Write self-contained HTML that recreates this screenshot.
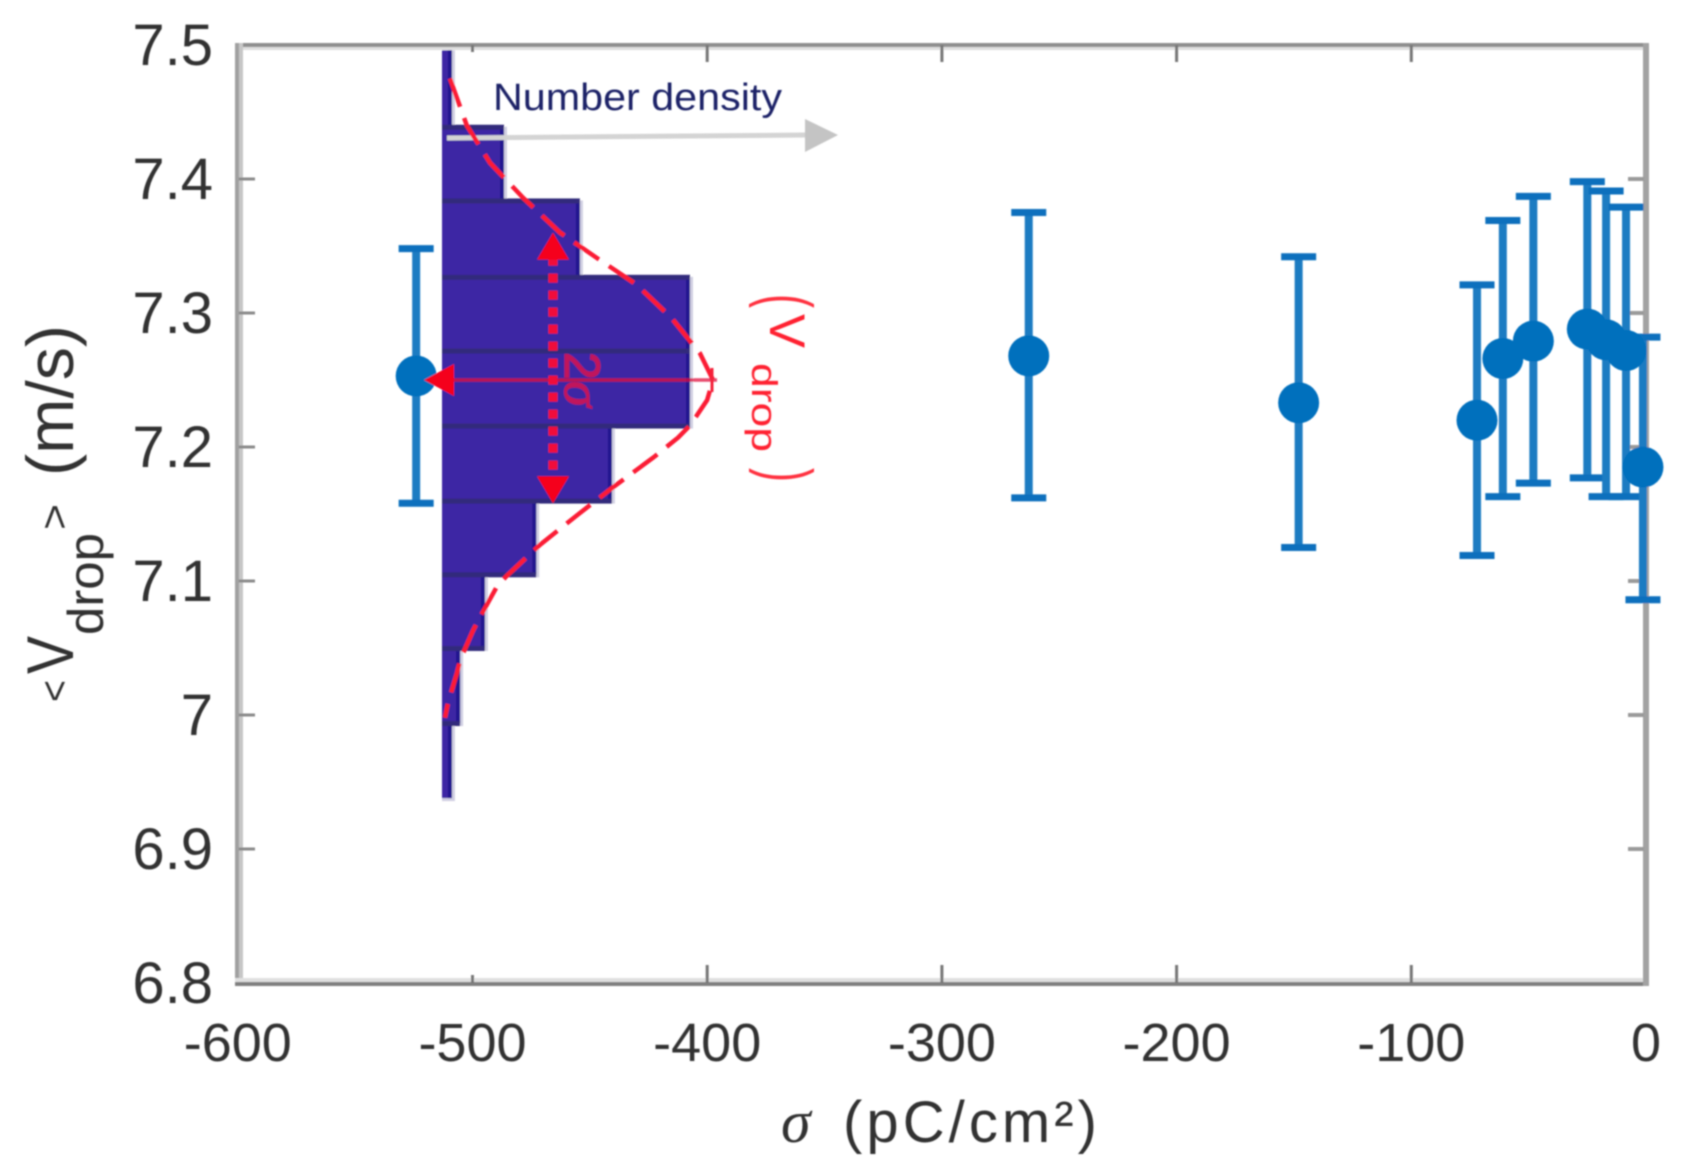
<!DOCTYPE html>
<html>
<head>
<meta charset="utf-8">
<title>Drop velocity vs surface charge</title>
<style>
  html,body{margin:0;padding:0;background:#fff;width:1681px;height:1173px;overflow:hidden}
  svg{display:block}
  text{font-family:"Liberation Sans",sans-serif}
</style>
</head>
<body>
<svg id="chart" xmlns="http://www.w3.org/2000/svg" width="1681" height="1173" viewBox="0 0 1681 1173">
  <defs>
    <filter id="soft" x="-5%" y="-5%" width="110%" height="110%"><feGaussianBlur stdDeviation="0.8"/></filter>
  </defs>
  <rect width="1681" height="1173" fill="#fff"/>
  <g id="root" filter="url(#soft)"></g>
</svg>
<script>
// ---- data ----
const sigma     = [-524, -263, -148, -72, -61, -48, -25, -17, -8.5, -1.3];
const vDrop     = [7.253, 7.268, 7.233, 7.220, 7.266, 7.279, 7.288, 7.280, 7.272, 7.185];
const vHigh     = [7.348, 7.375, 7.342, 7.321, 7.369, 7.387, 7.398, 7.391, 7.379, 7.282];
const vLow      = [7.158, 7.162, 7.125, 7.119, 7.163, 7.173, 7.177, 7.163, 7.163, 7.086];

const xTicks      = [-600, -500, -400, -300, -200, -100, 0];
const xTickLabels = ["-600", "-500", "-400", "-300", "-200", "-100", "0"];
const yTicks      = [7.5, 7.4, 7.3, 7.2, 7.1, 7, 6.9, 6.8];
const yTickLabels = ["7.5", "7.4", "7.3", "7.2", "7.1", "7", "6.9", "6.8"];

const histEdges   = [7.496, 7.439, 7.384, 7.327, 7.272, 7.216, 7.160, 7.105, 7.050, 6.994, 6.938];
const histDensity = [0.04, 0.25, 0.556, 1, 1, 0.685, 0.38, 0.173, 0.073, 0.04];

const fitV       = [7.475, 7.440, 7.412, 7.386, 7.360, 7.341, 7.321, 7.296, 7.270, 7.250, 7.235, 7.216, 7.207, 7.192, 7.170, 7.149, 7.127, 7.104, 7.096, 7.073, 7.063, 7.041, 7.031, 7.009, 6.998];
const fitDensity = [0.032, 0.10, 0.194, 0.327, 0.476, 0.625, 0.786, 0.927, 1.04, 1.093, 1.069, 1.0, 0.952, 0.851, 0.69, 0.544, 0.395, 0.262, 0.222, 0.153, 0.125, 0.073, 0.06, 0.024, 0.012];

const meanV      = [7.25];
const sigmaSpan  = [7.36, 7.158];

// ---- axis functions ----
const xScale = s => 1646 + s * 2.347;
const yScale = v => 45 + (7.5 - v) * 1340;
const densityX = d => 442 + d * 248;

const root = document.getElementById('root');
const NS = 'http://www.w3.org/2000/svg';
function mk(tag, attrs, text) {
  const el = document.createElementNS(NS, tag);
  for (const k in attrs) el.setAttribute(k, attrs[k]);
  if (text !== undefined) el.textContent = text;
  root.appendChild(el);
  return el;
}
let el;

// ---- histogram ----
histDensity.forEach((d, i) => {
  const y0 = yScale(histEdges[i]), y1 = yScale(histEdges[i + 1]), xr = densityX(d);
  el = mk('rect', {x: 442, y: y0, width: xr - 442 + 3, height: y1 - y0 + 3, fill: '#d0cfe2'});
  
  
  el = mk('rect', {x: 442, y: y0, width: xr - 442, height: y1 - y0, fill: '#3c28a4'});
  
  
  el = mk('rect', {x: xr - 4, y: y0, width: 4, height: y1 - y0, fill: '#20148f'});
  
  
});
histDensity.forEach((d, i) => {
  if (i === 0) return;
  const y0 = yScale(histEdges[i]);
  const xr = Math.max(d, histDensity[i - 1]);
  el = mk('rect', {x: 442, y: y0 - 2, width: densityX(xr) - 442, height: 5, fill: '#322a7c'});
  
  
});

// ---- axes box ----
el = mk('rect', {x: 235, y: 43, width: 1413, height: 4, fill: '#8f8f8f'});


el = mk('rect', {x: 235, y: 47, width: 1413, height: 3, fill: '#dedede'});


el = mk('rect', {x: 235, y: 43, width: 4, height: 943, fill: '#a0a0a0'});


el = mk('rect', {x: 239, y: 43, width: 4, height: 943, fill: '#c6c6c6'});


el = mk('rect', {x: 235, y: 978, width: 1413, height: 4, fill: '#e0e0e0'});


el = mk('rect', {x: 235, y: 982, width: 1413, height: 4, fill: '#808080'});


el = mk('rect', {x: 1643, y: 43, width: 6, height: 943, fill: '#a2a2a2'});



// ---- ticks ----
xTicks.forEach((t, i) => {
  const x = xScale(t);
  if (i > 0 && i < xTicks.length - 1) {
    const len = i === 1 ? 8 : 18;
    el = mk('rect', {x: x - 1.5, y: 983 - len, width: 3, height: len, fill: '#777'});
    
    
    el = mk('rect', {x: x - 1.5, y: 45, width: 3, height: len - 1, fill: '#777'});
    
    
  }
  el = mk('text', {x: x, y: 1061, 'text-anchor': 'middle', 'font-size': 54, fill: '#333'}, xTickLabels[i]);
  
  
});
yTicks.forEach((t, i) => {
  const y = yScale(t);
  if (i > 0 && i < yTicks.length - 1) {
    el = mk('rect', {x: 239, y: y - 1.5, width: 16, height: 3, fill: '#8a8a8a'});
    
    
    el = mk('rect', {x: 1628, y: y - 2, width: 16, height: 4, fill: '#9a9a9a'});
    
    
  }
  el = mk('text', {x: 213, y: y + 20, 'text-anchor': 'end', 'font-size': 58, fill: '#333'}, yTickLabels[i]);
  
  
});

// ---- axis titles ----
el = mk('text', {x: 781, y: 1142, 'font-size': 60, 'font-style': 'italic', fill: '#333', style: 'font-family:"Liberation Serif",serif'}, 'σ');


el = mk('text', {x: 843, y: 1142, 'font-size': 58, fill: '#333', textLength: 254, lengthAdjust: 'spacing'}, '(pC/cm²)');



function vText(txt, blX, startY, size, len) {
  const a = {transform: 'translate(' + blX + ',' + startY + ') rotate(-90)', 'font-size': size, fill: '#333'};
  if (len) { a.textLength = len; a.lengthAdjust = 'spacingAndGlyphs'; }
  return mk('text', a, txt);
}
el = vText('<', 68, 702, 40, 22);


el = vText('V', 73, 674, 66, 38);


el = vText('drop', 103, 635, 50, 102);


el = vText('>', 68, 530, 40, 26);


el = vText('(m/s)', 73, 476, 66, 151);



// ---- number density annotation ----
el = mk('text', {x: 493, y: 110, 'font-size': 38, fill: '#1c2468', textLength: 289, lengthAdjust: 'spacingAndGlyphs'}, 'Number density');


el = mk('line', {x1: 447, y1: 138, x2: 806, y2: 135, stroke: '#d4d4d4', 'stroke-width': 5});


el = mk('polygon', {points: '805,119 838,135 805,152', fill: '#c4c4c4'});



// ---- error bars and points ----
sigma.forEach((s, i) => {
  const x = xScale(s), yh = yScale(vHigh[i]), yl = yScale(vLow[i]);
  el = mk('line', {x1: x, y1: yh, x2: x, y2: yl, stroke: '#1a7cc2', 'stroke-width': 8});
  
  
  el = mk('line', {x1: x - 17.5, y1: yh, x2: x + 17.5, y2: yh, stroke: '#0a6fbd', 'stroke-width': 7});
  
  
  el = mk('line', {x1: x - 17.5, y1: yl, x2: x + 17.5, y2: yl, stroke: '#0a6fbd', 'stroke-width': 7});
  
  
});
sigma.forEach((s, i) => {
  el = mk('circle', {cx: xScale(s), cy: yScale(vDrop[i]), r: 20.5, fill: '#0070bd'});
  
  
});

// ---- gaussian fit ----
el = mk('polyline', {
  points: fitV.map((v, i) => densityX(fitDensity[i]) + ',' + yScale(v)).join(' '),
  fill: 'none', stroke: '#fb1a36', 'stroke-width': 4.5, 'stroke-dasharray': '30 12'
});



// ---- mean arrow ----
const meanY = yScale(meanV[0]);
el = mk('line', {x1: 445, y1: meanY, x2: 717, y2: meanY, stroke: '#e0103c', 'stroke-opacity': 0.75, 'stroke-width': 3.5});


el = mk('line', {x1: 712, y1: meanY - 12, x2: 712, y2: meanY + 12, stroke: '#f4203a', 'stroke-width': 3});


el = mk('polygon', {points: '424,' + meanY + ' 454,' + (meanY - 16) + ' 454,' + (meanY + 16), fill: '#f5001f'});



// ---- 2 sigma arrow ----
const sx = 553, sTop = yScale(sigmaSpan[0]), sBot = yScale(sigmaSpan[1]);
el = mk('line', {x1: sx, y1: sTop + 24, x2: sx, y2: sBot - 24, stroke: '#f0103a', 'stroke-width': 9, 'stroke-dasharray': '9 8'});


el = mk('polygon', {points: sx + ',' + sTop + ' ' + (sx - 16) + ',' + (sTop + 27) + ' ' + (sx + 16) + ',' + (sTop + 27), fill: '#f5001f'});


el = mk('polygon', {points: sx + ',' + sBot + ' ' + (sx - 16) + ',' + (sBot - 27) + ' ' + (sx + 16) + ',' + (sBot - 27), fill: '#f5001f'});



// ---- rotated annotations ----
el = mk('text', {transform: 'translate(565,352) rotate(90)', 'font-size': 50, 'stroke': '#c0145c', 'stroke-width': 1.2, fill: '#c0145c'}, '2');


el = mk('text', {transform: 'translate(565,381) rotate(90)', 'font-size': 52, 'font-style': 'italic', 'stroke': '#c0145c', 'stroke-width': 1.2, fill: '#c0145c', style: 'font-family:"Liberation Serif",serif'}, 'σ');



el = mk('text', {transform: 'translate(770,314) rotate(90)', 'font-size': 50, fill: '#ff2030', textLength: 34, lengthAdjust: 'spacingAndGlyphs'}, 'V');


el = mk('text', {transform: 'translate(752,363) rotate(90)', 'font-size': 36, fill: '#ff2030', textLength: 89, lengthAdjust: 'spacingAndGlyphs'}, 'drop');


el = mk('text', {transform: 'translate(782,301) rotate(90) scale(0.6,1)', 'font-size': 70, 'text-anchor': 'middle', fill: '#ff3040', 'dominant-baseline': 'middle'}, '(');


el = mk('text', {transform: 'translate(782,475) rotate(90) scale(0.6,1)', 'font-size': 70, 'text-anchor': 'middle', fill: '#ff3040', 'dominant-baseline': 'middle'}, ')');


</script>
</body>
</html>
